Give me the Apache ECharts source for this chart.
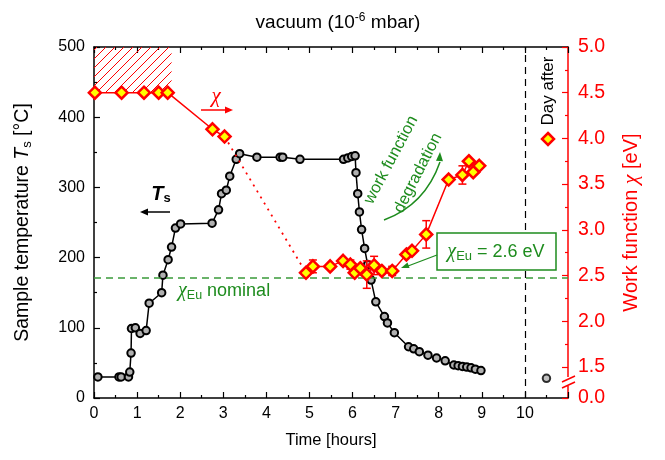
<!DOCTYPE html>
<html><head><meta charset="utf-8">
<script src="https://cdn.jsdelivr.net/npm/echarts@6/dist/echarts.min.js"></script>
<style>html,body{margin:0;padding:0;background:#fff}#c{width:665px;height:460px}</style>
</head><body><div id="c"></div>
<script>
// ---- data ----
const tempTime=[0.09,0.58,0.63,0.80,0.83,0.86,0.87,0.96,1.07,1.21,1.28,1.57,1.60,1.72,1.80,1.89,2.01,2.74,2.89,2.96,3.07,3.15,3.30,3.38,3.78,4.32,4.38,4.78,5.79,5.89,5.98,6.06,6.08,6.12,6.16,6.21,6.28,6.35,6.43,6.54,6.74,6.81,6.97,7.30,7.42,7.55,7.75,7.95,8.15,8.35,8.45,8.55,8.65,8.75,8.85,8.98];
const tempVal=[30,30,30,30,37,64,99,100,92,96,135,150,175,197,215,242,248,249,268,291,296,316,340,348,343,343,343,340,340,342,344,345,321,291,265,240,213,190,168,137,116,107,93,73,70,66,61,57,53,47,46,45,44,43,41,39];
const dayAfterTime=[10.5];
const dayAfterVal=[28];
const wfTime=[0.02,0.64,1.16,1.50,1.71,2.75,3.03,4.92,5.08,5.48,5.78,5.95,6.05,6.18,6.33,6.50,6.68,6.92,7.25,7.38,7.71,8.23,8.55,8.70,8.80,8.94];
const wfVal=[4.50,4.50,4.50,4.50,4.50,4.10,4.02,2.53,2.60,2.60,2.66,2.62,2.53,2.58,2.51,2.61,2.55,2.55,2.73,2.77,2.95,3.55,3.60,3.75,3.63,3.70];
const wfErr=[0,0,0,0,0,0,0,0,0.07,0,0,0.05,0,0,0.15,0.10,0,0.05,0,0,0.15,0,0.10,0,0,0];
const xTickLabels=[0,1,2,3,4,5,6,7,8,9,10];
const tempTicks=[0,100,200,300,400,500];
const wfTicks=[1.5,2.0,2.5,3.0,3.5,4.0,4.5,5.0];
const wfMinorTicks=[1.75,2.25,2.75,3.25,3.75,4.25,4.75];
const WF_BREAK_MIN=1.16;   // axis bottom, labelled 0.0 (axis break)
const wfNominal=2.48;
const lastSolidIdx=6;

// ---- helpers ----
const zip=(a,b)=>a.map((v,i)=>[v,b[i]]);
const RED='#ff0000', GREEN='#1e8c1e', FONT='Liberation Sans';
function hatch(){const c=document.createElement('canvas');c.width=9;c.height=9;const g=c.getContext('2d');g.strokeStyle=RED;g.lineWidth=1;g.beginPath();g.moveTo(0,9);g.lineTo(9,0);g.moveTo(-2,2);g.lineTo(2,-2);g.moveTo(7,11);g.lineTo(11,7);g.stroke();return c;}
function head(x1,y1,x2,y2,L,W,color){const a=Math.atan2(y2-y1,x2-x1);const bx=x2-L*Math.cos(a),by=y2-L*Math.sin(a);const px=-Math.sin(a)*W,py=Math.cos(a)*W;return {type:'polygon',shape:{points:[[x2,y2],[bx+px,by+py],[bx-px,by-py]]},style:{fill:color},z:100};}
function seg(x1,y1,x2,y2,color,w){return {type:'line',shape:{x1,y1,x2,y2},style:{stroke:color,lineWidth:w||1.5},z:100};}

const wfData=zip(wfTime,wfVal);
const errData=wfTime.map((t,i)=>[t,wfVal[i]-wfErr[i],wfVal[i]+wfErr[i],wfErr[i]]).filter(d=>d[3]>0);
const wfSym={symbol:'diamond',symbolSize:12,itemStyle:{color:'#ffff00',borderColor:RED,borderWidth:2.5}};

const chart=echarts.init(document.getElementById('c'));
const G={left:94,right:97,top:47,bottom:62};
const baseX={type:'value',min:0,max:11,interval:1,splitLine:{show:false},
  axisLine:{onZero:false,lineStyle:{color:'#000',width:1.5}},
  axisTick:{inside:true,length:6,lineStyle:{color:'#000',width:1.2}},
  minorTick:{show:true,splitNumber:2,length:3,lineStyle:{color:'#000',width:1.2}}};
chart.setOption({
  animation:false,
  grid:[G,Object.assign({},G)],
  xAxis:[
    Object.assign({},baseX,{gridIndex:0,position:'bottom',name:'Time [hours]',nameLocation:'middle',nameGap:34,
      nameTextStyle:{fontFamily:FONT,fontSize:16.5,color:'#000'},
      axisLabel:{fontFamily:FONT,fontSize:16,color:'#000',margin:8,formatter:v=>xTickLabels.indexOf(v)>=0?String(v):''}}),
    Object.assign({},baseX,{gridIndex:0,position:'top',axisLabel:{show:false}}),
    {type:'value',gridIndex:1,min:0,max:11,show:false}
  ],
  yAxis:[
    {type:'value',gridIndex:0,min:0,max:500,interval:100,position:'left',splitLine:{show:false},
     axisLine:{show:true,onZero:false,lineStyle:{color:'#000',width:1.5}},
     axisTick:{inside:true,length:6,lineStyle:{color:'#000',width:1.2}},
     minorTick:{show:true,splitNumber:2,length:3,lineStyle:{color:'#000',width:1.2}},
     axisLabel:{fontFamily:FONT,fontSize:16,color:'#000',margin:9,formatter:v=>tempTicks.indexOf(v)>=0?String(v):''},
     name:'{t|Sample temperature }{i|T}{b|s}{t| [°C]}',nameLocation:'middle',nameRotate:90,nameGap:60,
     nameTextStyle:{rich:{t:{fontFamily:FONT,fontSize:19.5,color:'#000',lineHeight:22},i:{fontFamily:FONT,fontSize:19.5,fontStyle:'italic',color:'#000',lineHeight:22},b:{fontFamily:FONT,fontSize:13,color:'#000',lineHeight:13,verticalAlign:'bottom'}}}},
    {type:'value',gridIndex:0,min:WF_BREAK_MIN,max:5,position:'right',splitLine:{show:false},
     axisLine:{show:true,onZero:false,lineStyle:{color:RED,width:1.5}},
     axisTick:{inside:true,length:6,lineStyle:{color:RED,width:1.2},customValues:[WF_BREAK_MIN].concat(wfTicks)},
     axisLabel:{fontFamily:FONT,fontSize:19.5,color:RED,margin:10,customValues:[WF_BREAK_MIN].concat(wfTicks),formatter:v=>v<1.4?'0.0':v.toFixed(1)},
     name:'{t|Work function }{c|χ}{t| [eV]}',nameLocation:'middle',nameRotate:90,nameGap:52,
     nameTextStyle:{rich:{t:{fontFamily:FONT,fontSize:20,color:RED},c:{fontFamily:'Liberation Serif',fontStyle:'italic',fontSize:22,color:RED}}}},
    {type:'value',gridIndex:1,min:WF_BREAK_MIN,max:5,position:'right',splitLine:{show:false},
     axisLine:{show:false,onZero:false},axisLabel:{show:false},
     axisTick:{inside:true,length:3,lineStyle:{color:RED,width:1.2},customValues:wfMinorTicks}}
  ],
  series:[
    {type:'line',name:'T',xAxisIndex:0,yAxisIndex:0,data:zip(tempTime,tempVal),symbol:'circle',symbolSize:7.5,
     itemStyle:{color:'#b0b0b0',borderColor:'#000',borderWidth:2},lineStyle:{color:'#000',width:1.5},z:2,
     markLine:{silent:true,symbol:'none',label:{show:false},lineStyle:{color:'#000',type:[7,5],width:1.2},data:[{xAxis:10}]}},
    {type:'scatter',xAxisIndex:0,yAxisIndex:0,data:zip(dayAfterTime,dayAfterVal),symbol:'circle',symbolSize:7.5,
     itemStyle:{color:'#b0b0b0',borderColor:'#000',borderWidth:2},z:2},
    {type:'line',xAxisIndex:0,yAxisIndex:1,data:wfData.slice(lastSolidIdx,lastSolidIdx+2),symbol:'none',
     lineStyle:{color:RED,width:1.8,type:[2,5]},z:3},
    {type:'custom',xAxisIndex:0,yAxisIndex:1,data:errData,z:4,renderItem:(p,api)=>{
      const x=api.value(0),a=api.coord([x,api.value(1)]),b=api.coord([x,api.value(2)]),w=4,st={stroke:RED,lineWidth:1.5};
      return {type:'group',children:[
        {type:'line',shape:{x1:a[0],y1:a[1],x2:b[0],y2:b[1]},style:st},
        {type:'line',shape:{x1:a[0]-w,y1:a[1],x2:a[0]+w,y2:a[1]},style:st},
        {type:'line',shape:{x1:b[0]-w,y1:b[1],x2:b[0]+w,y2:b[1]},style:st}]};}},
    Object.assign({type:'line',xAxisIndex:0,yAxisIndex:1,data:wfData.slice(0,lastSolidIdx+1),lineStyle:{color:RED,width:1.5},z:5,
     markArea:{silent:true,itemStyle:{color:{image:hatch(),repeat:'repeat'}},data:[[{xAxis:0,yAxis:4.5},{xAxis:1.8,yAxis:5}]]}},wfSym),
    Object.assign({type:'line',xAxisIndex:0,yAxisIndex:1,data:wfData.slice(lastSolidIdx+1),lineStyle:{color:RED,width:1.5},z:5,
     markLine:{silent:true,symbol:'none',label:{show:false},lineStyle:{color:'#3a9a3a',type:[7,5],width:1.5},data:[{yAxis:wfNominal}]}},wfSym)
  ],
  graphic:[
    // title
    {type:'text',x:338,y:23,style:{text:'{a|vacuum (10}{s|-6}{a| mbar)}',align:'center',verticalAlign:'middle',rich:{a:{fontFamily:FONT,fontSize:19,fill:'#000',lineHeight:22},s:{fontFamily:FONT,fontSize:12,fill:'#000',lineHeight:13,verticalAlign:'top'}}},z:100},
    // axis break on right axis
    {type:'rect',shape:{x:564,y:377,width:9,height:9},style:{fill:'#fff'},z:90},
    seg(562,382,575,376,RED,1.5), seg(562,388,575,382,RED,1.5),
    // chi annotation
    {type:'text',x:216,y:96,style:{text:'χ',fontFamily:'Liberation Serif',fontStyle:'italic',fontSize:21,fill:RED,align:'center',verticalAlign:'middle'},z:100},
    seg(201,110,228,110,RED,1.5), head(201,110,233,110,8,3.5,RED),
    // T_s annotation
    {type:'text',x:161,y:194,style:{text:'{t|T}{s|s}',align:'center',verticalAlign:'middle',rich:{t:{fontFamily:FONT,fontSize:20,fontWeight:'bold',fontStyle:'italic',fill:'#000',lineHeight:22},s:{fontFamily:FONT,fontSize:13,fontWeight:'bold',fill:'#000',lineHeight:13,verticalAlign:'bottom'}}},z:100},
    seg(146,212,170,212,'#000',1.5), head(170,212,140,212,8,3.5,'#000'),
    // work function degradation
    {type:'text',x:391,y:160,rotation:62*Math.PI/180,style:{text:'work function',fontFamily:FONT,fontSize:16.5,fill:GREEN,align:'center',verticalAlign:'middle'},z:100},
    {type:'text',x:418,y:173,rotation:63*Math.PI/180,style:{text:'degradation',fontFamily:FONT,fontSize:16.5,fill:GREEN,align:'center',verticalAlign:'middle'},z:100},
    {type:'bezierCurve',shape:{x1:384,y1:220,cpx1:425,cpy1:205,x2:440,y2:162},style:{stroke:GREEN,lineWidth:1.5,fill:'none'},z:100},
    head(439,170,440,152,9,3.5,GREEN),
    // chi_Eu box
    {type:'rect',shape:{x:437,y:233,width:119,height:37},style:{fill:'#fff',stroke:GREEN,lineWidth:1.5},z:100},
    {type:'text',x:496,y:252,style:{text:'{c|χ}{s|Eu}{t| = 2.6 eV}',align:'center',verticalAlign:'middle',rich:{c:{fontFamily:'Liberation Serif',fontStyle:'italic',fontSize:20,fill:GREEN,lineHeight:22},s:{fontFamily:FONT,fontSize:13,fill:GREEN,lineHeight:12,verticalAlign:'bottom'},t:{fontFamily:FONT,fontSize:18,fill:GREEN,lineHeight:22}}},z:101},
    seg(437,255,408,266,GREEN,1.3), head(437,255,401,268,8,3,GREEN),
    // chi_Eu nominal
    {type:'text',x:178,y:291,style:{text:'{c|χ}{s|Eu}{t| nominal}',align:'left',verticalAlign:'middle',rich:{c:{fontFamily:'Liberation Serif',fontStyle:'italic',fontSize:20,fill:GREEN,lineHeight:22},s:{fontFamily:FONT,fontSize:12.5,fill:GREEN,lineHeight:12,verticalAlign:'bottom'},t:{fontFamily:FONT,fontSize:18,fill:GREEN,lineHeight:22}}},z:100},
    // Day after
    {type:'text',x:548,y:91,rotation:Math.PI/2,style:{text:'Day after',fontFamily:FONT,fontSize:17,fill:'#000',align:'center',verticalAlign:'middle'},z:100},
    {type:'polygon',shape:{points:[[548,133],[554,139],[548,145],[542,139]]},style:{fill:'#ffff00',stroke:RED,lineWidth:2.5},z:100}
  ]
});
</script></body></html>
